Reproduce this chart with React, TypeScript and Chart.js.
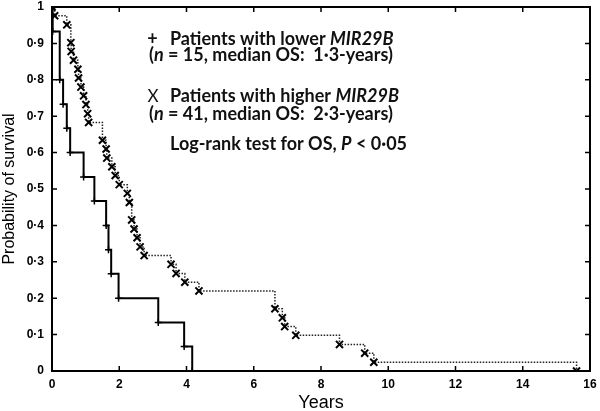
import React, { useEffect, useRef } from 'react';
import { Chart, registerables } from 'chart.js';

Chart.register(...registerables);

// ---- data ----
const lowerTimes = [0, 0.02, 0.23, 0.33, 0.44, 0.54, 0.94, 1.26, 1.61, 1.68, 1.76, 1.98, 3.16, 3.93, 4.17];
const lowerSurv = [1, 0.933, 0.8, 0.733, 0.667, 0.6, 0.533, 0.467, 0.4, 0.333, 0.267, 0.2, 0.133, 0.067, 0];

const higherTimes = [0, 0.08, 0.44, 0.56, 0.57, 0.64, 0.77, 0.79, 0.86, 0.94, 1.01, 1.06, 1.09, 1.5, 1.61, 1.63, 1.78, 1.88, 2.0, 2.24, 2.3, 2.37, 2.44, 2.53, 2.62, 2.74, 3.54, 3.69, 3.95, 4.37, 6.63, 6.85, 6.92, 7.25, 8.55, 9.3, 9.57, 15.6];
const higherSurv = [1, 0.976, 0.951, 0.902, 0.878, 0.854, 0.829, 0.805, 0.78, 0.756, 0.732, 0.707, 0.683, 0.634, 0.61, 0.585, 0.561, 0.537, 0.512, 0.488, 0.463, 0.415, 0.39, 0.366, 0.341, 0.317, 0.293, 0.268, 0.244, 0.22, 0.171, 0.146, 0.122, 0.098, 0.073, 0.049, 0.024, 0];

const xTickValues = [0, 2, 4, 6, 8, 10, 12, 14, 16];
const xTickLabels = ['0', '2', '4', '6', '8', '10', '12', '14', '16'];
const yTickValues = [0, 0.1, 0.2, 0.3, 0.4, 0.5, 0.6, 0.7, 0.8, 0.9, 1];
const yTickLabels = ['0', '0·1', '0·2', '0·3', '0·4', '0·5', '0·6', '0·7', '0·8', '0·9', '1'];

const xTitle = 'Years';
const yTitle = 'Probability of survival';

// annotation text: [text, italic]
const annotLine1: [string, boolean][] = [['Patients with lower ', false], ['MIR29B', true]];
const annotLine2: [string, boolean][] = [['(', false], ['n', true], [' = 15, median OS:  1·3-years)', false]];
const annotLine3: [string, boolean][] = [['Patients with higher ', false], ['MIR29B', true]];
const annotLine4: [string, boolean][] = [['(', false], ['n', true], [' = 41, median OS:  2·3-years)', false]];
const annotLine5: [string, boolean][] = [['Log-rank test for OS, ', false], ['P', true], [' < 0·05', false]];
const annotMarkers = ['+', 'X'];

const TEXT_FONT = 'Lato';
const TEXT_SIZE = 18;

const annotPlugin = {
  id: 'annot',
  afterDraw(chart: any) {
    const ctx = chart.ctx as CanvasRenderingContext2D;
    const { left, right, top, bottom } = chart.chartArea;
    const xs = chart.scales.x;
    const ys = chart.scales.y;
    ctx.save();
    // frame
    ctx.strokeStyle = '#000';
    ctx.lineWidth = 2;
    ctx.strokeRect(left, top, right - left, bottom - top);
    // inward ticks
    ctx.lineWidth = 1.5;
    const tl = 5;
    ctx.beginPath();
    xTickValues.forEach((v) => {
      const px = xs.getPixelForValue(v);
      ctx.moveTo(px, bottom);
      ctx.lineTo(px, bottom - tl);
      ctx.moveTo(px, top);
      ctx.lineTo(px, top + tl);
    });
    yTickValues.forEach((v) => {
      const py = ys.getPixelForValue(v);
      ctx.moveTo(left, py);
      ctx.lineTo(left + tl, py);
      ctx.moveTo(right, py);
      ctx.lineTo(right - tl, py);
    });
    ctx.stroke();

    // annotation text
    ctx.fillStyle = '#111';
    ctx.textBaseline = 'alphabetic';
    const drawLine = (parts: [string, boolean][], x: number, y: number) => {
      let cx = x;
      parts.forEach(([t, it]) => {
        ctx.font = `${it ? 'italic ' : ''}bold ${TEXT_SIZE}px ${TEXT_FONT}`;
        ctx.fillText(t, cx, y);
        cx += ctx.measureText(t).width;
      });
    };
    ctx.font = `bold ${TEXT_SIZE}px ${TEXT_FONT}`;
    ctx.textAlign = 'center';
    ctx.fillText(annotMarkers[0], 152.5, 44.5);
    ctx.font = `${TEXT_SIZE - 1}px ${TEXT_FONT}`;
    ctx.fillText(annotMarkers[1], 153, 101.5);
    ctx.textAlign = 'left';
    drawLine(annotLine1, 170, 44.5);
    drawLine(annotLine2, 149, 61);
    drawLine(annotLine3, 170, 101.5);
    drawLine(annotLine4, 149, 119.5);
    drawLine(annotLine5, 170, 150);
    ctx.restore();
  },
};

export default function App() {
  const ref = useRef<HTMLCanvasElement | null>(null);
  useEffect(() => {
    document.body.style.margin = '0';
    const canvas = ref.current;
    if (!canvas) return;
    const lowerData = lowerTimes.map((t, i) => ({ x: t, y: lowerSurv[i] }));
    const higherData = higherTimes.map((t, i) => ({ x: t, y: higherSurv[i] }));
    const tickFont = { family: '"Liberation Sans", Arial, sans-serif', size: 12, weight: 'bold' as const };
    const chart = new Chart(canvas, {
      type: 'line',
      data: {
        datasets: [
          {
            label: 'higher',
            data: higherData,
            stepped: 'before',
            borderColor: '#222',
            borderWidth: 1.5,
            borderDash: [1.5, 1.5],
            pointStyle: 'crossRot',
            pointRadius: 5,
            pointBorderWidth: 2,
            pointBorderColor: '#000',
            pointBackgroundColor: '#000',
            fill: false,
          },
          {
            label: 'lower',
            data: lowerData,
            stepped: 'before',
            borderColor: '#000',
            borderWidth: 2,
            pointStyle: 'cross',
            pointRadius: 3.5,
            pointBorderWidth: 1.5,
            pointBorderColor: '#000',
            fill: false,
          },
        ],
      },
      options: {
        responsive: false,
        animation: false,
        layout: { padding: { left: 0, right: 10, top: 4, bottom: 0 } },
        plugins: { legend: { display: false }, tooltip: { enabled: false } },
        scales: {
          x: {
            type: 'linear',
            min: 0,
            max: 16,
            grid: { display: false, drawTicks: false },
            border: { display: false },
            ticks: {
              stepSize: 2,
              padding: 6,
              color: '#000',
              font: tickFont,
              maxRotation: 0,
              callback: (v: any, i: number) => xTickLabels[i],
            },
            title: {
              display: true,
              text: xTitle,
              color: '#000',
              font: { family: '"Liberation Sans", Arial, sans-serif', size: 18 },
              padding: { top: 0, bottom: -3 },
            },
            afterFit: (s: any) => {
              s.height = 40;
              s.paddingLeft = 0;
              s.paddingRight = 0;
            },
          },
          y: {
            type: 'linear',
            min: 0,
            max: 1,
            grid: { display: false, drawTicks: false },
            border: { display: false },
            ticks: {
              stepSize: 0.1,
              padding: 8,
              color: '#000',
              font: tickFont,
              callback: (v: any, i: number) => yTickLabels[i],
            },
            title: {
              display: true,
              text: yTitle,
              color: '#000',
              font: { family: '"Liberation Sans", Arial, sans-serif', size: 16 },
              padding: { top: 0, bottom: 0 },
            },
            afterFit: (s: any) => {
              s.width = 52;
              s.paddingTop = 0;
              s.paddingBottom = 0;
            },
          },
        },
      },
      plugins: [annotPlugin],
    });
    return () => chart.destroy();
  }, []);
  return (
    <div style={{ width: 600, height: 411 }}>
      <canvas ref={ref} width={600} height={411} style={{ display: 'block' }} />
    </div>
  );
}
